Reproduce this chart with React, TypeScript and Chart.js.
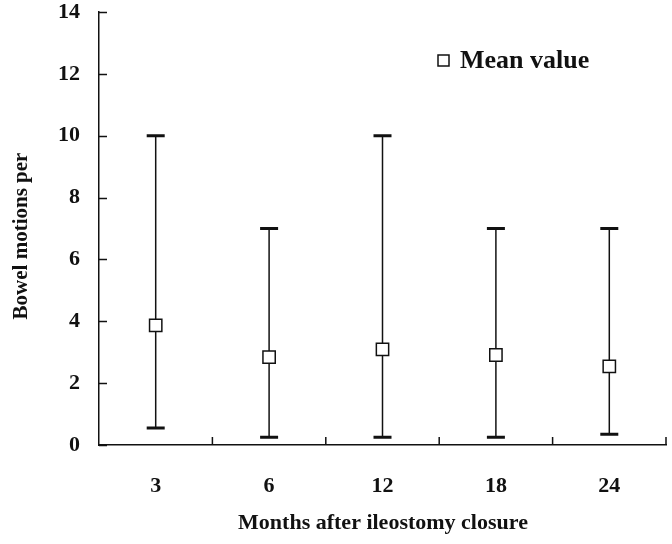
import React, { useEffect, useRef } from "react";
import { Chart, registerables } from "chart.js";

Chart.register(...registerables);

const categories = ["3", "6", "12", "18", "24"];
const meanValues = [3.87, 2.84, 3.09, 2.91, 2.54];
const maxValues = [10, 7, 10, 7, 7];
const minValues = [0.55, 0.25, 0.25, 0.25, 0.35];
const yMin = 0;
const yMax = 14;
const yStep = 2;
const legendLabel = "Mean value";
const xTitle = "Months after ileostomy closure";
const yTitle = "Bowel motions per";

const FONT = '"Liberation Serif", "Times New Roman", serif';
const INK = "#111";

const overlay = {
  id: "overlay",
  beforeDatasetsDraw(chart: any) {
    const ctx = chart.ctx;
    const xs = chart.scales.x;
    const ys = chart.scales.y;
    ctx.save();
    ctx.strokeStyle = INK;
    // error bars
    categories.forEach((_c, i) => {
      const px = xs.getPixelForValue(i);
      const top = ys.getPixelForValue(maxValues[i]);
      const bot = ys.getPixelForValue(minValues[i]);
      ctx.lineWidth = 1.5;
      ctx.beginPath();
      ctx.moveTo(px, top);
      ctx.lineTo(px, bot);
      ctx.stroke();
      ctx.lineWidth = 3;
      ctx.beginPath();
      ctx.moveTo(px - 9, top);
      ctx.lineTo(px + 9, top);
      ctx.moveTo(px - 9, bot);
      ctx.lineTo(px + 9, bot);
      ctx.stroke();
    });
    // inward ticks
    ctx.lineWidth = 1.5;
    ctx.beginPath();
    for (let v = yMin; v <= yMax; v += yStep) {
      const py = Math.round(ys.getPixelForValue(v)) + 0.5;
      ctx.moveTo(xs.left, py);
      ctx.lineTo(xs.left + 8, py);
    }
    categories.forEach((_c, i) => {
      const px = xs.getPixelForValue(i + 0.5);
      ctx.moveTo(px, ys.bottom);
      ctx.lineTo(px, ys.bottom - 8);
    });
    ctx.stroke();
    ctx.restore();
  },
  afterDraw(chart: any) {
    const ctx = chart.ctx;
    ctx.save();
    ctx.fillStyle = INK;
    ctx.textAlign = "center";
    ctx.textBaseline = "middle";
    // x title
    ctx.font = `bold 22px ${FONT}`;
    ctx.fillText(xTitle, 383, 523);
    // y title
    ctx.save();
    ctx.translate(22, 236);
    ctx.rotate(-Math.PI / 2);
    ctx.font = `bold 21px ${FONT}`;
    ctx.fillText(yTitle, 0, 0);
    ctx.restore();
    // legend
    ctx.strokeStyle = INK;
    ctx.lineWidth = 1.5;
    ctx.fillStyle = "#fff";
    ctx.fillRect(438, 55, 11, 11);
    ctx.strokeRect(438, 55, 11, 11);
    ctx.fillStyle = INK;
    ctx.textAlign = "left";
    ctx.font = `bold 26px ${FONT}`;
    ctx.fillText(legendLabel, 460, 61);
    ctx.restore();
  },
};

export default function App() {
  const ref = useRef<HTMLCanvasElement>(null);
  useEffect(() => {
    if (!ref.current) return;
    const chart = new Chart(ref.current, {
      type: "line",
      data: {
        labels: categories,
        datasets: [
          {
            label: legendLabel,
            data: meanValues,
            showLine: false,
            pointStyle: "rect",
            pointRadius: 8.7,
            pointBackgroundColor: "#fff",
            pointBorderColor: INK,
            pointBorderWidth: 1.5,
          },
        ],
      },
      options: {
        responsive: false,
        animation: false,
        layout: { autoPadding: false, padding: { left: 0, top: 12, right: 6, bottom: 0 } },
        plugins: {
          legend: { display: false },
          tooltip: { enabled: false },
          title: { display: false },
        },
        scales: {
          x: {
            type: "category",
            offset: true,
            grid: { display: false, drawTicks: false, offset: true },
            border: { display: true, color: INK, width: 1.5 },
            ticks: {
              color: INK,
              padding: 28,
              font: { family: FONT, size: 22, weight: "bold" },
              maxRotation: 0,
            },
            afterFit: (s: any) => {
              s.height = 99;
              s.paddingLeft = 0;
              s.paddingRight = 0;
            },
          },
          y: {
            min: yMin,
            max: yMax,
            grid: { display: false, drawTicks: false },
            border: { display: true, color: INK, width: 1.5 },
            ticks: {
              stepSize: yStep,
              color: INK,
              padding: 19,
              font: { family: FONT, size: 22, weight: "bold" },
            },
            afterFit: (s: any) => {
              s.width = 99;
              s.paddingTop = 0;
              s.paddingBottom = 0;
            },
          },
        },
      },
      plugins: [overlay],
    });
    return () => chart.destroy();
  }, []);
  return (
    <div style={{ position: "fixed", left: 0, top: 0, width: 672, height: 544, background: "#fff" }}>
      <canvas ref={ref} width={672} height={544} style={{ display: "block" }} />
    </div>
  );
}
